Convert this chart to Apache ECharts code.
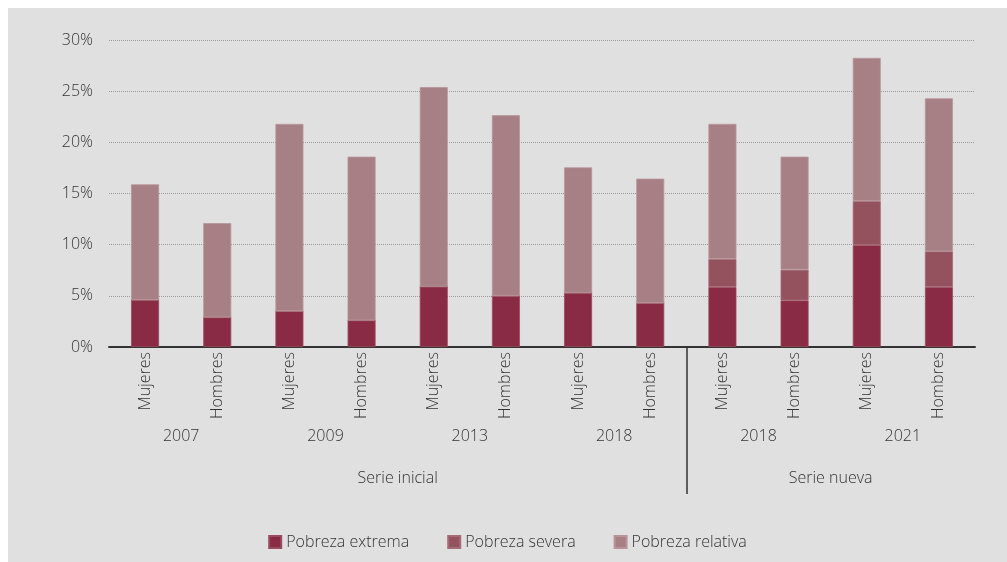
<!DOCTYPE html>
<html>
<head>
<meta charset="utf-8">
<script src="https://cdn.jsdelivr.net/npm/echarts@6/dist/echarts.min.js"></script>
<style>
html,body{margin:0;padding:0;background:#fff;}
#c{position:absolute;left:8px;top:8px;width:999px;height:554px;background:#e0e0e0;}
</style>
</head>
<body>
<div id="c"></div>
<script>
var categories = ['Mujeres','Hombres','Mujeres','Hombres','Mujeres','Hombres','Mujeres','Hombres','Mujeres','Hombres','Mujeres','Hombres'];
var years = ['2007','2009','2013','2018','2018','2021'];
var seriesGroups = ['Serie inicial','Serie nueva'];
var yTicks = ['0%','5%','10%','15%','20%','25%','30%'];
var pobrezaExtrema = [4.6, 2.9, 3.5, 2.6, 5.9, 5.0, 5.3, 4.3, 5.85, 4.55, 9.95, 5.85];
var pobrezaSevera  = [0, 0, 0, 0, 0, 0, 0, 0, 2.75, 3.0, 4.3, 3.5];
var pobrezaRelativa = [11.3, 9.2, 18.3, 16.0, 19.5, 17.65, 12.25, 12.15, 13.2, 11.05, 14.0, 14.95];
var seriesNames = ['Pobreza extrema','Pobreza severa','Pobreza relativa'];

var FONT = 'Open Sans';
var FW = 300;
var FS = 16;
var TXT = '#333333';
var chart = echarts.init(document.getElementById('c'), null, {renderer:'canvas'});

function barSeries(name, data, color, border) {
  return {
    name: name, type: 'bar', stack: 'total', data: data,
    xAxisIndex: 0, barWidth: 28,
    itemStyle: {color: color, borderColor: border, borderWidth: 0.8},
    emphasis: {disabled: true}
  };
}

chart.setOption({
  animation: false,
  textStyle: {fontFamily: FONT, fontWeight: FW},
  grid: {left: 101, right: 32, top: 32, bottom: 215, containLabel: false},
  legend: {
    bottom: 7, left: 'center',
    itemWidth: 12, itemHeight: 12, itemGap: 38,
    icon: 'rect',
    textStyle: {fontFamily: FONT, fontWeight: FW, fontSize: FS, color: TXT, padding: [0,0,0,0]},
    data: seriesNames
  },
  xAxis: [
    {
      type: 'category', data: categories, position: 'bottom',
      axisLine: {show: true, lineStyle: {color: '#333', width: 2}},
      axisTick: {show: false},
      axisLabel: {rotate: 90, margin: 5, fontFamily: FONT, fontWeight: FW, fontSize: FS, color: TXT}
    },
    {
      type: 'category', data: years, position: 'bottom',
      axisLine: {show: false}, axisTick: {show: false},
      axisLabel: {margin: 81, fontFamily: FONT, fontWeight: FW, fontSize: FS, color: TXT}
    },
    {
      type: 'value', min: 0, max: categories.length, position: 'bottom',
      axisLine: {show: false}, splitLine: {show: false},
      axisTick: {show: true, customValues: [8], length: 147, inside: false, lineStyle: {color: '#333', width: 1.5}},
      axisLabel: {
        margin: 123, fontFamily: FONT, fontWeight: FW, fontSize: FS, color: TXT,
        customValues: [4, 10],
        formatter: function (v) { return v === 4 ? seriesGroups[0] : seriesGroups[1]; }
      }
    }
  ],
  yAxis: {
    type: 'value', min: 0, max: 30, interval: 5,
    axisLine: {show: false}, axisTick: {show: false},
    axisLabel: {
      margin: 16, fontFamily: FONT, fontWeight: FW, fontSize: FS, color: TXT,
      formatter: function (v) { return yTicks[Math.round(v / 5)]; }
    },
    splitLine: {show: true, lineStyle: {color: '#9a9a9a', type: 'dotted', width: 1}}
  },
  series: [
    barSeries(seriesNames[0], pobrezaExtrema, '#8a2b45', '#9a4a5e'),
    barSeries(seriesNames[1], pobrezaSevera, '#94525f', '#a46a75'),
    barSeries(seriesNames[2], pobrezaRelativa, '#a78086', '#b89499')
  ]
});
</script>
</body>
</html>
